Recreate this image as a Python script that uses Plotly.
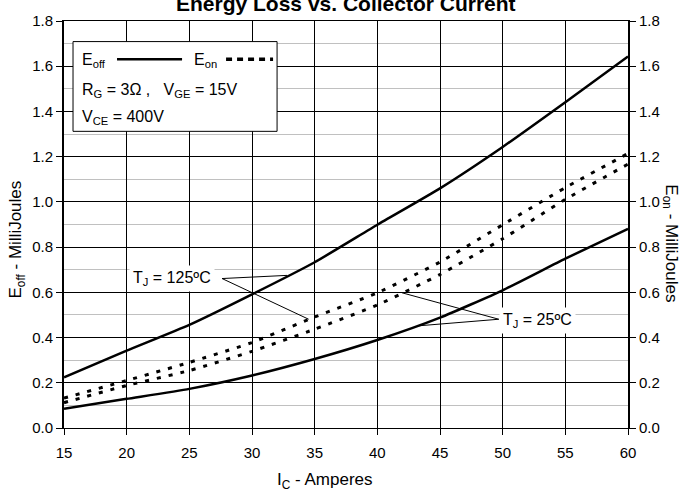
import plotly.graph_objects as go

# Collector current (A)
ic = [15, 20, 25, 30, 35, 40, 45, 50, 55, 60]

# Switching energy (mJ)
eoff_125 = [0.224, 0.342, 0.456, 0.591, 0.733, 0.899, 1.060, 1.243, 1.441, 1.643]
eoff_25 = [0.085, 0.129, 0.173, 0.232, 0.305, 0.389, 0.488, 0.609, 0.749, 0.881]
eon_125 = [0.132, 0.210, 0.290, 0.378, 0.491, 0.598, 0.734, 0.899, 1.063, 1.214]
eon_25 = [0.112, 0.188, 0.254, 0.339, 0.437, 0.544, 0.679, 0.837, 1.011, 1.167]

x_ticks = [15, 20, 25, 30, 35, 40, 45, 50, 55, 60]
y_ticks = [0.0, 0.2, 0.4, 0.6, 0.8, 1.0, 1.2, 1.4, 1.6, 1.8]

FONT = "Liberation Sans, Arial, sans-serif"

fig = go.Figure()

solid = dict(color="black", width=2.5, shape="spline", smoothing=0.5)
dashed = dict(color="black", width=3, dash="4px,8px", shape="spline", smoothing=0.5)

fig.add_trace(go.Scatter(x=ic, y=eoff_125, mode="lines", line=solid, name="Eoff 125"))
fig.add_trace(go.Scatter(x=ic, y=eoff_25, mode="lines", line=solid, name="Eoff 25"))
fig.add_trace(go.Scatter(x=ic, y=eon_125, mode="lines", line=dashed, name="Eon 125"))
fig.add_trace(go.Scatter(x=ic, y=eon_25, mode="lines", line=dashed, name="Eon 25"))
# carrier for the right-hand axis
fig.add_trace(go.Scatter(x=[ic[0]], y=[0], mode="lines", yaxis="y2",
                         line=dict(width=0), showlegend=False, hoverinfo="skip"))

shapes = [
    # legend box
    dict(type="rect", xref="x", yref="y", x0=15.72, y0=1.312, x1=32.0, y1=1.709,
         fillcolor="white", line=dict(color="black", width=1), layer="between"),
    dict(type="line", xref="x", yref="y", x0=19.23, y0=1.631, x1=24.42, y1=1.631,
         line=dict(color="black", width=2.5), layer="above"),
    dict(type="line", xref="x", yref="y", x0=27.93, y0=1.631, x1=31.68, y1=1.631,
         line=dict(color="black", width=3.5, dash="6px,5px"), layer="above"),
    # leader lines for the temperature labels
    dict(type="line", xref="x", yref="y", x0=27.61, y0=0.661, x1=32.80, y1=0.675,
         line=dict(color="black", width=1), layer="above"),
    dict(type="line", xref="x", yref="y", x0=27.61, y0=0.661, x1=34.52, y1=0.481,
         line=dict(color="black", width=1), layer="above"),
    dict(type="line", xref="x", yref="y", x0=49.69, y0=0.481, x1=41.97, y1=0.598,
         line=dict(color="black", width=1), layer="above"),
    dict(type="line", xref="x", yref="y", x0=49.69, y0=0.481, x1=43.30, y1=0.452,
         line=dict(color="black", width=1), layer="above"),
]

txt = dict(family=FONT, size=16, color="black")
axt = dict(family=FONT, size=17, color="black")
nb = "\u00a0"
annotations = [
    dict(text="<b>Energy Loss vs. Collector Current</b>", xref="paper", yref="paper",
         x=0.5, y=1.0427, xanchor="center", yanchor="middle", showarrow=False,
         font=dict(family=FONT, size=21, color="black")),
    dict(text="E<sub>off</sub> - MilliJoules", xref="paper", yref="paper",
         x=-0.0833, y=0.463, textangle=-90, xanchor="center", yanchor="middle",
         showarrow=False, font=axt),
    dict(text="E<sub>on</sub> - MilliJoules", xref="paper", yref="paper",
         x=1.0745, y=0.4537, textangle=90, xanchor="center", yanchor="middle",
         showarrow=False, font=axt),
    dict(text="I<sub>C</sub> - Amperes", xref="paper", yref="paper",
         x=0.4628, y=-0.131, xanchor="center", yanchor="middle",
         showarrow=False, font=axt),
    # legend texts
    dict(text="E<sub>off</sub>", xref="x", yref="y", x=16.3, y=1.624,
         xanchor="left", yanchor="middle", showarrow=False, font=txt),
    dict(text="E<sub>on</sub>", xref="x", yref="y", x=25.25, y=1.624,
         xanchor="left", yanchor="middle", showarrow=False, font=txt),
    dict(text="R<sub>G</sub> = 3\u03a9 ," + nb * 3 + "V<sub>GE</sub> = 15V", xref="x", yref="y",
         x=16.3, y=1.4925, xanchor="left", yanchor="middle", showarrow=False, font=txt),
    dict(text="V<sub>CE</sub> = 400V", xref="x", yref="y", x=16.3, y=1.375,
         xanchor="left", yanchor="middle", showarrow=False, font=txt),
    # temperature labels
    dict(text="T<sub>J</sub> = 125\u00baC", xref="x", yref="y", x=23.62, y=0.663,
         xanchor="center", yanchor="middle", showarrow=False, font=txt,
         bgcolor="white", borderpad=3),
    dict(text="T<sub>J</sub> = 25\u00baC", xref="x", yref="y", x=52.75, y=0.477,
         xanchor="center", yanchor="middle", showarrow=False, font=txt,
         bgcolor="white", borderpad=3),
]

fig.update_layout(
    width=686, height=493,
    margin=dict(l=64, r=58, t=18, b=65, pad=0),
    paper_bgcolor="white", plot_bgcolor="white",
    showlegend=False,
    font=dict(family=FONT, size=15, color="black"),
    xaxis=dict(
        range=[15, 60], tickvals=x_ticks, ticktext=[str(v) for v in x_ticks],
        showgrid=True, gridcolor="black", gridwidth=1,
        showline=True, linecolor="black", linewidth=1, mirror=True,
        ticks="outside", ticklen=6, tickcolor="black", tickwidth=1,
        ticklabelstandoff=5,
        zeroline=False, tickfont=dict(family=FONT, size=15),
    ),
    yaxis=dict(
        range=[0, 1.8], tickvals=y_ticks, ticktext=[f"{v:.1f}" for v in y_ticks],
        showgrid=True, gridcolor="black", gridwidth=1,
        minor=dict(dtick=0.1, showgrid=True, gridcolor="#c0c0c0", gridwidth=1),
        showline=True, linecolor="black", linewidth=2,
        ticks="outside", ticklen=6, tickcolor="black", tickwidth=1,
        zeroline=False, tickfont=dict(family=FONT, size=15),
    ),
    yaxis2=dict(
        range=[0, 1.8], tickvals=y_ticks, ticktext=[f"{v:.1f}" for v in y_ticks],
        overlaying="y", side="right", showgrid=False,
        showline=True, linecolor="black", linewidth=2,
        ticks="outside", ticklen=6, tickcolor="black", tickwidth=1,
        zeroline=False, tickfont=dict(family=FONT, size=15),
    ),
    shapes=shapes,
    annotations=annotations,
)

fig.write_html("out.html")
